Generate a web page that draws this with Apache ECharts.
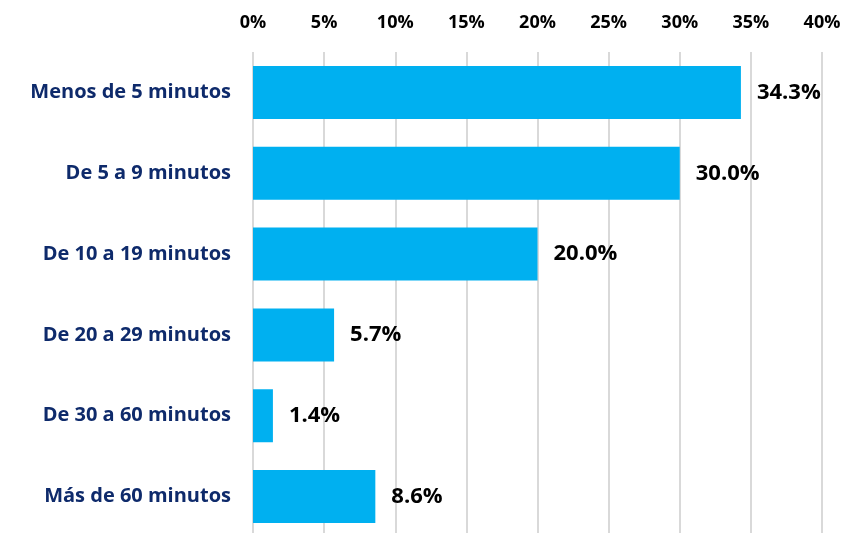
<!DOCTYPE html>
<html><head><meta charset="utf-8">
<script src="https://cdn.jsdelivr.net/npm/echarts@6/dist/echarts.min.js"></script>
<style>html,body{margin:0;padding:0;background:#fff}#c{width:861px;height:533px}</style>
</head><body><div id="c"></div>
<script>
const categories = ["Menos de 5 minutos","De 5 a 9 minutos","De 10 a 19 minutos","De 20 a 29 minutos","De 30 a 60 minutos","Más de 60 minutos"];
const values = [34.3, 30.0, 20.0, 5.7, 1.4, 8.6];
const tickLabels = ["0%","5%","10%","15%","20%","25%","30%","35%","40%"];
const chart = echarts.init(document.getElementById('c'));
chart.setOption({
  animation:false,
  grid:{left:253,right:39,top:52,height:485,containLabel:false,outerBoundsMode:'none'},
  xAxis:{type:'value',position:'top',min:0,max:40,interval:5,
    axisLine:{show:false},axisTick:{show:false},
    axisLabel:{formatter:v=>tickLabels[Math.round(v/5)],color:'#000',fontWeight:'bold',fontSize:18,fontFamily:'Open Sans',margin:20},
    splitLine:{lineStyle:{color:'#d9d9d9',width:2}}},
  yAxis:{type:'category',inverse:true,data:categories,
    axisLine:{show:false},axisTick:{show:false},
    axisLabel:{color:'#0E2A6B',fontWeight:'bold',fontSize:20,fontFamily:'Open Sans',margin:22}},
  series:[{type:'bar',data:values,barWidth:53,
    itemStyle:{color:'#00B0F0'},
    label:{show:true,position:'right',distance:16,formatter:p=>p.value.toFixed(1)+'%',
      color:'#000',fontWeight:'bold',fontSize:22,fontFamily:'Open Sans'}}]
});
</script></body></html>
